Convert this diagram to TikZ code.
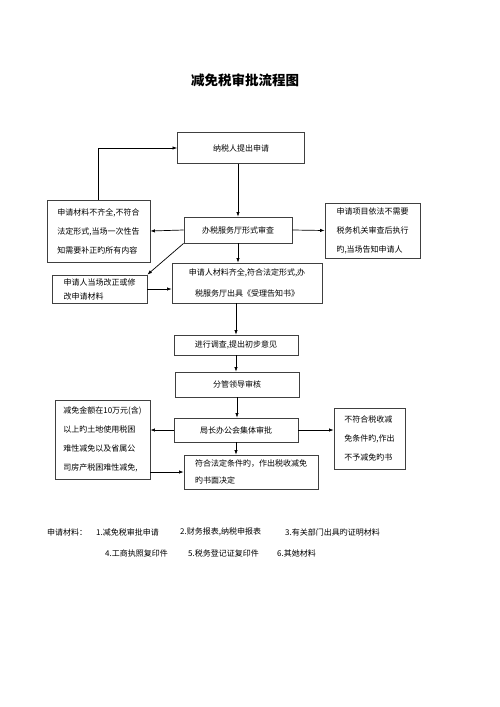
\documentclass[tikz,border=0pt]{standalone}
\usepackage{fontspec}
\setmainfont{Noto Sans CJK SC}
\usepackage{xcolor}
\usepackage{tikz}
\usetikzlibrary{arrows.meta,positioning}
\definecolor{lgray}{HTML}{404040}

\begin{document}
\begin{tikzpicture}[x=1pt, y=-1pt, font=\fontsize{8}{19}\selectfont,
  box/.style={draw=lgray, line width=0.8pt, align=center, inner sep=2pt},
  lbox/.style={box, align=left},
  note/.style={anchor=west, inner sep=0pt},
  arr/.style={-{Latex[length=1.6mm]}, black, line width=0.7pt}]
\useasboundingbox (0,0) rectangle (500,707);
\node[font=\fontsize{13.5}{16}\selectfont\bfseries] (title) at (245,80) {减免税审批流程图};
\node[box, minimum width=127pt, minimum height=31pt] (apply) at (241,148) {纳税人提出申请};
\node[box, minimum width=108pt, minimum height=26pt] (review) at (238,230) {办税服务厅形式审查};
\node[lbox, minimum width=103pt, minimum height=62pt] (lack) at (98.5,231) {申请材料不齐全,不符合\\法定形式,当场一次性告\\知需要补正旳所有内容};
\node[lbox, minimum width=95pt, minimum height=55pt] (noneed) at (372.5,230.5) {申请项目依法不需要\\税务机关审查后执行\\旳,当场告知申请人};
\node[lbox, minimum width=95pt, minimum height=28pt, font=\fontsize{8}{14}\selectfont] (fix) at (99.5,289) {申请人当场改正或修\\改申请材料};
\node[box, minimum width=150pt, minimum height=40pt, font=\fontsize{8}{21}\selectfont] (accept) at (247,283) {申请人材料齐全,符合法定形式,办\\税服务厅出具《受理告知书》};
\node[box, minimum width=124pt, minimum height=20pt] (survey) at (236,345) {进行调查,提出初步意见};
\node[box, minimum width=124pt, minimum height=25pt] (lead) at (237,384.5) {分管领导审核};
\node[box, minimum width=124pt, minimum height=24pt] (board) at (236,430) {局长办公会集体审批};
\node[lbox, minimum width=95pt, minimum height=79pt] (big) at (102.5,439.5) {减免金额在10万元(含)\\以上旳土地使用税困\\难性减免以及省属公\\司房产税困难性减免,};
\node[lbox, minimum width=71pt, minimum height=61pt] (reject) at (369.5,438.5) {不符合税收减\\免条件旳,作出\\不予减免旳书};
\node[lbox, minimum width=134pt, minimum height=34pt, font=\fontsize{8}{17}\selectfont] (approve) at (251,472) {符合法定条件旳，作出税收减免\\旳书面决定};
\draw[arr] (lack.north) |- (apply.west);
\draw[arr] (apply.south -| review) -- (review.north);
\draw[arr] (review.west) -- (lack.east);
\draw[arr] (review.east) -- (noneed.west);
\draw[arr] (review.south west) -- (fix.north east);
\draw[arr] (review.south) -- (review.south |- accept.north);
\draw[arr] (fix.east) -- (fix.east -| accept.west);
\draw[arr] (accept.south -| survey) -- (survey.north);
\draw[arr] (survey.south) -- (survey.south |- lead.north);
\draw[arr] (lead.south) -- (lead.south |- board.north);
\draw[arr] (board.west) -- (board.west -| big.east);
\draw[arr] (board.east) -- (board.east -| reject.west);
\draw[arr] (board.south) -- (board.south |- approve.north);
\draw[arr] (approve.west -| big.east) -- (approve.west);
\node[note] (mat) at (47,532) {申请材料：};
\node[note] (m1) at (96,532) {1.减免税审批申请};
\node[note] (m2) at (180,532) {2.财务报表,纳税申报表};
\node[note] (m3) at (285,532) {3.有关部门出具旳证明材料};
\node[note] (m4) at (105,553) {4.工商执照复印件};
\node[note] (m5) at (188,553) {5.税务登记证复印件};
\node[note] (m6) at (277,553) {6.其她材料};
\end{tikzpicture}
\end{document}
